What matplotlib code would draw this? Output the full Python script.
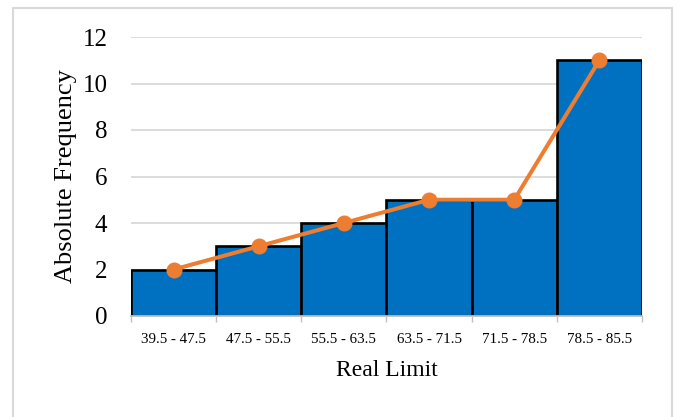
import matplotlib.pyplot as plt
import numpy as np
from matplotlib.patches import Rectangle

# class intervals and counts
limits = ['39.5 - 47.5', '47.5 - 55.5', '55.5 - 63.5', '63.5 - 71.5', '71.5 - 78.5', '78.5 - 85.5']
freq = [2, 3, 4, 5, 5, 11]
yticks = [0, 2, 4, 6, 8, 10, 12]

plt.rcParams['font.family'] = ['Liberation Serif', 'DejaVu Serif']

fig = plt.figure(figsize=(6.76, 4.17), dpi=100)
ax = fig.add_axes([131 / 676, 1 - 316 / 417, 511 / 676, 279 / 417])

# frame round the whole chart
fig.patches.append(Rectangle((13 / 676, -0.05), 659 / 676, 1.05 - 8 / 417, transform=fig.transFigure,
                             fill=False, edgecolor='#D9D9D9', linewidth=1.5))

x = np.arange(len(freq))
ax.bar(x, freq, width=1.0, color='#0070C0', edgecolor='black', linewidth=1.9, zorder=2)
ax.plot(x, freq, color='#ED7D31', linewidth=2.9, marker='o', markersize=10.5, zorder=3)

ax.set_xlim(-0.5, len(freq) - 0.5)
ax.set_ylim(0, 12)
ax.set_yticks(yticks)
ax.set_yticklabels([str(v) for v in yticks], fontsize=18)
ax.tick_params(axis='y', length=0, pad=17)
ax.set_xticks(x)
ax.set_xticklabels(limits, fontsize=10.8)
ax.tick_params(axis='x', length=0, pad=12)
# little boundary marks under the axis
ax.set_xticks(np.arange(len(freq) + 1) - 0.5, minor=True)
ax.tick_params(axis='x', which='minor', length=4, color='#BFBFBF', width=1)

ax.yaxis.grid(True, color='#D9D9D9', linewidth=1.3, zorder=0)
ax.set_axisbelow(True)
for s in ['top', 'right', 'left']:
    ax.spines[s].set_visible(False)
ax.spines['bottom'].set_color('#BFBFBF')
ax.spines['bottom'].set_linewidth(1.3)
ax.spines['bottom'].set_zorder(4)

ax.set_xlabel('Real Limit', fontsize=17, labelpad=10)
ax.set_ylabel('Absolute Frequency', fontsize=19, labelpad=4)

fig.savefig('out.png', dpi=100)
